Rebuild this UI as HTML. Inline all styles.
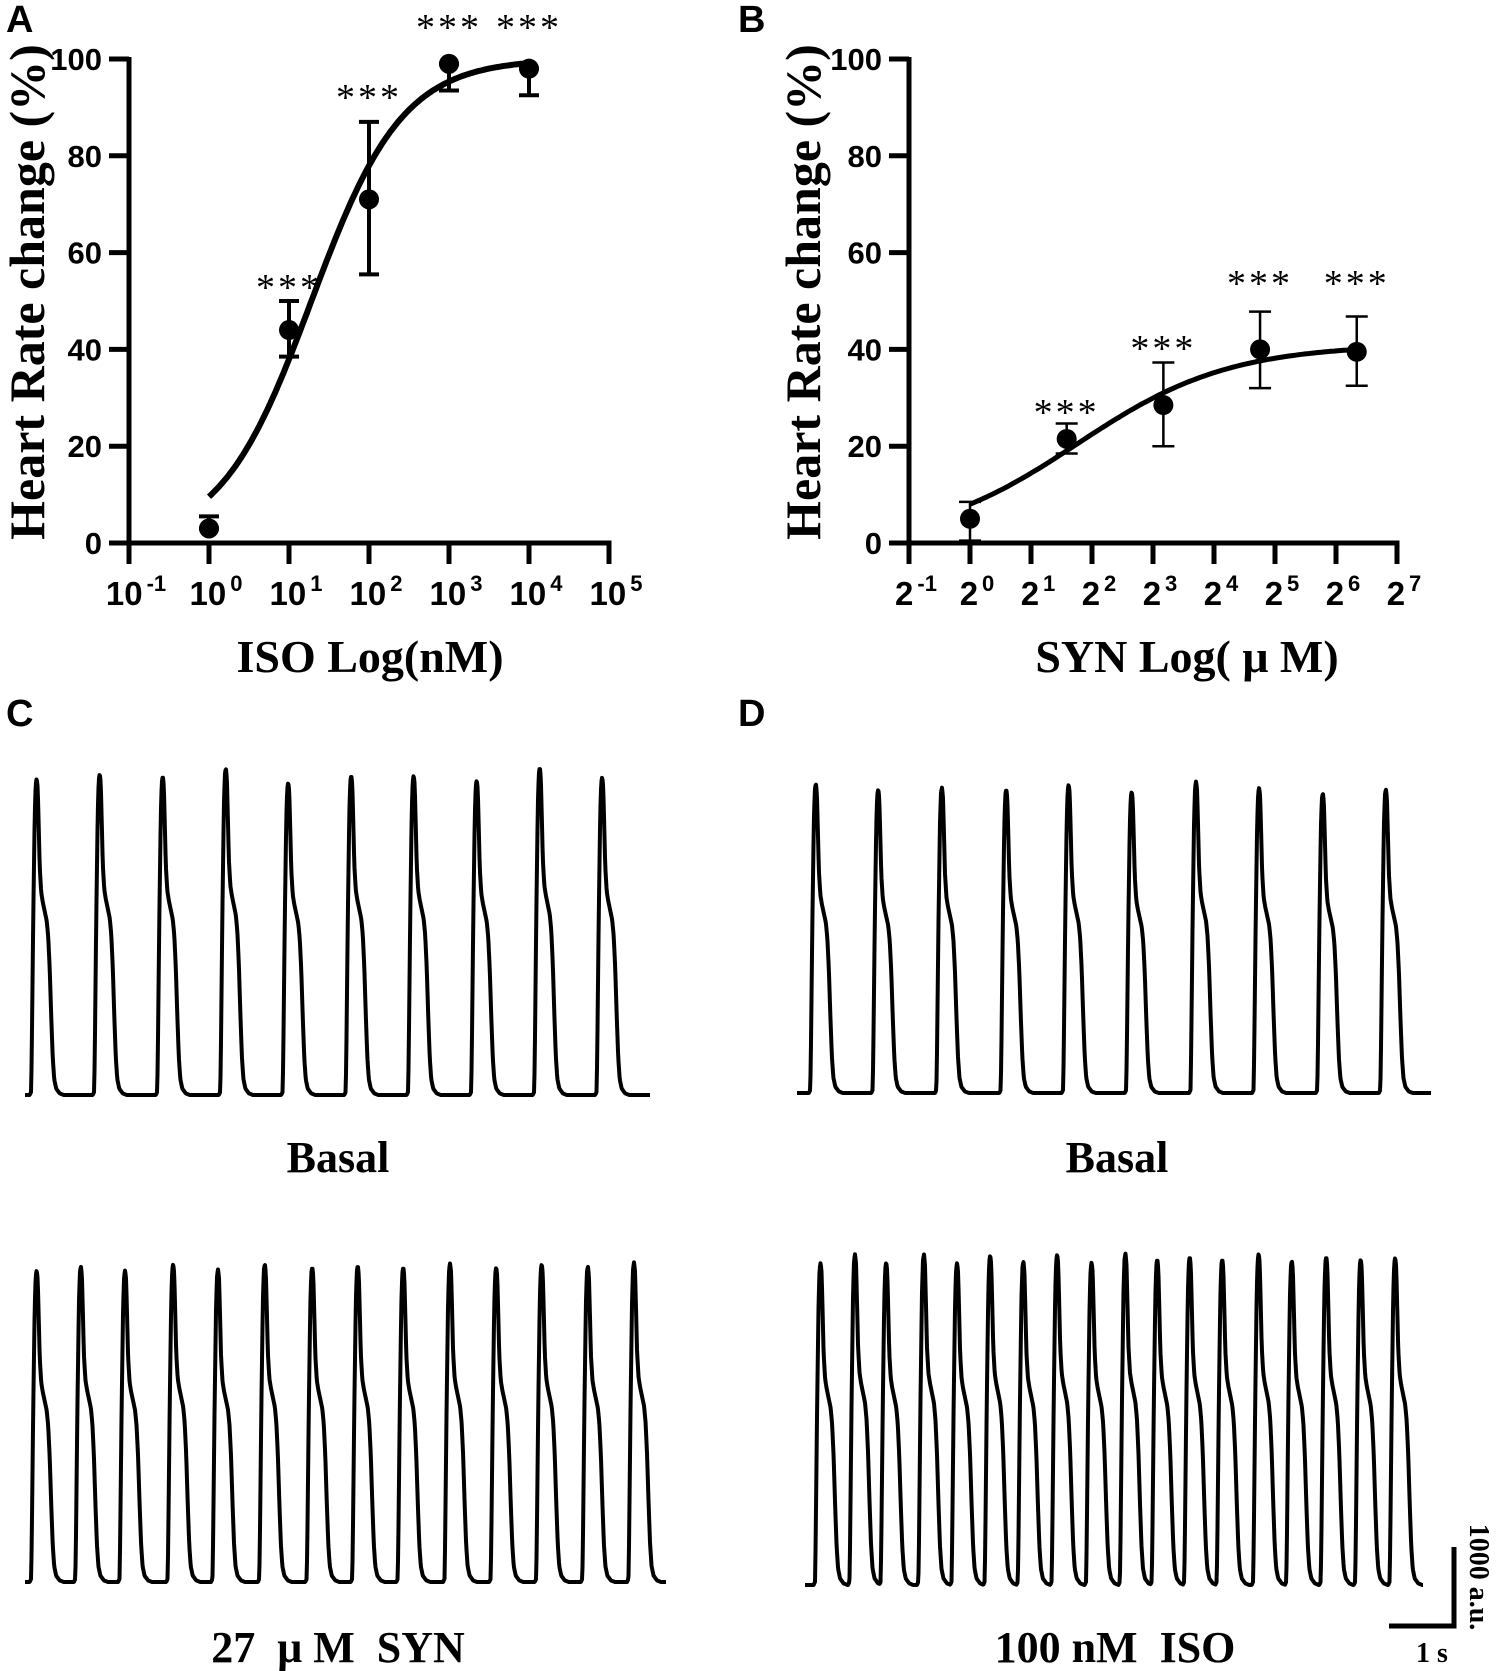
<!DOCTYPE html>
<html><head><meta charset="utf-8"><title>Heart rate dose-response and calcium traces</title>
<style>
html,body{margin:0;padding:0;background:#fff;}
svg{display:block;}
.tick{font-family:"Liberation Sans",sans-serif;font-weight:bold;font-size:31px;fill:#000;}
.xtick{font-family:"Liberation Sans",sans-serif;font-weight:bold;font-size:33px;fill:#000;}
.serif{font-family:"Liberation Serif",serif;font-weight:bold;fill:#000;}
.star{font-family:"Liberation Serif",serif;font-weight:normal;fill:#000;}
.letter{font-family:"Liberation Sans",sans-serif;font-weight:bold;font-size:38px;fill:#000;}
</style></head>
<body>
<svg id="fig" width="1500" height="1671" viewBox="0 0 1500 1671" xmlns="http://www.w3.org/2000/svg">
  <text class="letter" x="6" y="32">A</text>
  <text class="letter" x="738" y="32">B</text>
  <text class="letter" x="6" y="726">C</text>
  <text class="letter" x="738" y="726">D</text>
  <g id="panelA"></g>
  <g id="panelB"></g>
  <g id="traces"></g>
  <text class="serif" x="338" y="1172" font-size="44" text-anchor="middle">Basal</text>
  <text class="serif" x="1117" y="1172" font-size="44" text-anchor="middle">Basal</text>
  <text class="serif" x="338" y="1662" font-size="44" text-anchor="middle" xml:space="preserve">27  μ M  SYN</text>
  <text class="serif" x="1115" y="1662" font-size="44" text-anchor="middle" xml:space="preserve">100 nM  ISO</text>
  <g>
    <path d="M1454 1547 V1626 H1389" fill="none" stroke="#000" stroke-width="5"/>
    <text class="serif" x="1432" y="1662" font-size="28" text-anchor="middle">1 s</text>
    <text class="serif" font-size="28" text-anchor="middle" transform="translate(1470,1577) rotate(90)">1000 a.u.</text>
  </g>
</svg>
<script>
// ---------- Panel A data (ISO) ----------
const isoLogConc = [0, 1, 2, 3, 4];
const isoMean = [3, 44, 71, 99, 98];
const isoErrUp = [5.5, 50, 87, 99, 98];
const isoErrLow = [3, 38.5, 55.5, 93.5, 92.5];
const isoTickExp = [-1, 0, 1, 2, 3, 4, 5];
const isoFitTop = 100, isoFitBottom = 0, isoFitLogEC50 = 1.28, isoFitHill = 0.762;
// ---------- Panel B data (SYN) ----------
const synLog2Conc = [0, 1.585, 3.17, 4.755, 6.34];
const synMean = [5, 21.5, 28.5, 40, 39.5];
const synErrUp = [8.5, 24.7, 37.3, 47.8, 46.8];
const synErrLow = [0.5, 18.5, 20, 32, 32.5];
const synTickExp = [-1, 0, 1, 2, 3, 4, 5, 6, 7];
const synFitTop = 41, synFitBottom = 0, synFitLog2EC50 = 1.76, synFitHill = 1.16;
const yTicks = [0, 20, 40, 60, 80, 100];
// ---------- Traces data: peak times (s) and peak amplitudes (a.u.) ----------
const cBasalPeakTimes = [0.18,1.15,2.12,3.09,4.05,5.02,5.98,6.95,7.92,8.88];
const cBasalPeakAmps = [4010,4070,4040,4140,3960,4050,4050,3990,4150,4030];
const cSynPeakTimes = [0.18,0.86,1.54,2.28,2.97,3.69,4.42,5.12,5.82,6.54,7.25,7.95,8.66,9.37];
const cSynPeakAmps = [3950,4000,3950,4030,3960,4030,3990,4010,3990,4040,3990,4030,4000,4050];
const dBasalPeakTimes = [0.29,1.25,2.23,3.22,4.18,5.15,6.14,7.11,8.09,9.06];
const dBasalPeakAmps = [3920,3850,3870,3850,3910,3820,3950,3870,3800,3850];
const dIsoPeakTimes = [0.24,0.77,1.25,1.83,2.34,2.85,3.36,3.88,4.41,4.93,5.42,5.92,6.42,6.98,7.49,8.02,8.55,9.08];
const dIsoPeakAmps = [4080,4190,4090,4190,4080,4180,4100,4190,4090,4200,4130,4160,4130,4200,4110,4160,4130,4150];

const NS = "http://www.w3.org/2000/svg";
function mk(tag, parent, attrs) {
  const e = document.createElementNS(NS, tag);
  for (const k in attrs) e.setAttribute(k, attrs[k]);
  parent.appendChild(e);
  return e;
}

function drawPanel(g, cfg) {
  const yS = v => cfg.y0 - v * cfg.yPer;
  const xS = v => cfg.x0 + (v - cfg.tickExp[0]) * cfg.xPer;
  const xEnd = xS(cfg.tickExp[cfg.tickExp.length - 1]);
  const ax = mk('path', g, {d:`M${cfg.x0} ${yS(100)-2} V${cfg.y0} H${xEnd+2.5}`, fill:'none', stroke:'#000', 'stroke-width':5});
  
  
  yTicks.forEach(v => {
    const t = mk('line', g, {x1:cfg.x0-20, x2:cfg.x0, y1:yS(v), y2:yS(v), stroke:'#000', 'stroke-width':5});
    
    
    const l = mk('text', g, {x:cfg.x0-27, y:yS(v)+11, 'text-anchor':'end', class:'tick'});
    l.textContent = v;
    
    
  });
  cfg.tickExp.forEach(e => {
    const x = xS(e);
    const t = mk('line', g, {x1:x, x2:x, y1:cfg.y0, y2:cfg.y0+21, stroke:'#000', 'stroke-width':5});
    
    
    const l = mk('text', g, {x:x+7, y:cfg.y0+62, 'text-anchor':'middle', class:'xtick'});
    
    
    const b = mk('tspan', l, {}); b.textContent = cfg.base;
    const s = mk('tspan', l, {'font-size':22, dy:-14, dx:4}); s.textContent = e < 0 ? '-' + (-e) : String(e);
  });
  let d = '';
  for (let i = 0; i <= 120; i++) {
    const xv = cfg.fitFrom + (cfg.fitTo - cfg.fitFrom) * i / 120;
    const yv = cfg.fit(xv);
    d += (i ? 'L' : 'M') + xS(xv).toFixed(1) + ' ' + yS(yv).toFixed(1);
  }
  const c = mk('path', g, {d, fill:'none', stroke:'#000', 'stroke-width':cfg.curveW});
  
  
  cfg.xs.forEach((xv, i) => {
    const x = xS(xv);
    const eb = mk('path', g, {d:`M${x} ${yS(cfg.up[i])} V${yS(cfg.low[i])} M${x-cfg.cap} ${yS(cfg.up[i])} H${x+cfg.cap} M${x-cfg.cap} ${yS(cfg.low[i])} H${x+cfg.cap}`, fill:'none', stroke:'#000', 'stroke-width':cfg.errW});
    
    
    const p = mk('circle', g, {cx:x, cy:yS(cfg.mean[i]), r:10, fill:'#000'});
    
    
    if (cfg.starY[i] !== null) {
      const s = mk('text', g, {x:x, y:cfg.starY[i], 'text-anchor':'middle', class:'star', 'font-size':38, 'letter-spacing':3});
      s.textContent = '***';
      
      
    }
  });
  const yt = mk('text', g, {class:'serif', 'font-size':50, 'text-anchor':'middle', transform:`translate(${cfg.yTitleX},292) rotate(-90)`});
  yt.textContent = 'Heart Rate change (%)';
  
  
  const xt = mk('text', g, {class:'serif', 'font-size':46, 'text-anchor':'middle', x:cfg.xTitleX, y:672, 'xml:space':'preserve'});
  xt.textContent = cfg.xTitle;
  
  
}

drawPanel(document.getElementById('panelA'), {
  x0:129, y0:543, yPer:4.84, xPer:80, tickExp:isoTickExp, base:'10',
  xs:isoLogConc, mean:isoMean, up:isoErrUp, low:isoErrLow,
  fit: x => isoFitBottom + (isoFitTop - isoFitBottom) / (1 + Math.pow(10, (isoFitLogEC50 - x) * isoFitHill)),
  fitFrom:0, fitTo:4, curveW:6, errW:4, cap:10,
  starY:[null, 300, 110, 40, 40],
  yTitleX:44, xTitleX:370, xTitle:'ISO Log(nM)'
});
drawPanel(document.getElementById('panelB'), {
  x0:909, y0:543, yPer:4.84, xPer:61, tickExp:synTickExp, base:'2',
  xs:synLog2Conc, mean:synMean, up:synErrUp, low:synErrLow,
  fit: x => synFitBottom + (synFitTop - synFitBottom) / (1 + Math.pow(2, (synFitLog2EC50 - x) * synFitHill)),
  fitFrom:0, fitTo:6.34, curveW:5, errW:2.5, cap:11,
  starY:[null, 425, 361, 296, 296],
  yTitleX:820, xTitleX:1187, xTitle:'SYN  Log( μ M)'
});

// ---------- traces ----------
const pxPerSec = 65, pxPerAU = 0.079;
const tpl = [[-7,0],[-5.6,0.01],[-5,0.12],[-3.5,0.55],[-2,0.88],[-1,0.98],[0,1],[1,0.97],[2,0.85],[3,0.72],[4.5,0.64],[6,0.61],[8,0.58],[10,0.55],[11.5,0.5],[13,0.4],[14.5,0.25],[16,0.12],[17.5,0.05],[19.5,0.02],[23,0.005],[27,0]];
function beatVal(dx) {
  if (dx <= tpl[0][0] || dx >= tpl[tpl.length-1][0]) return 0;
  for (let i = 1; i < tpl.length; i++) {
    if (dx <= tpl[i][0]) {
      const a = tpl[i-1], b = tpl[i];
      return a[1] + (b[1]-a[1]) * (dx - a[0]) / (b[0]-a[0]);
    }
  }
  return 0;
}
function drawTrace(name, x0, x1, baseY, times, amps) {
  const g = document.getElementById('traces');
  let d = '';
  for (let x = x0; x <= x1; x += 0.5) {
    let v = 0;
    times.forEach((t, i) => {
      const px = x0 + t * pxPerSec;
      const b = beatVal(x - px) * amps[i];
      if (b > v) v = b;
    });
    d += (x === x0 ? 'M' : 'L') + x.toFixed(1) + ' ' + (baseY - v * pxPerAU).toFixed(1);
  }
  const p = mk('path', g, {d, fill:'none', stroke:'#000', 'stroke-width':4, 'stroke-linejoin':'round'});
  
  
}
drawTrace('trace-c-basal', 25, 650, 1095, cBasalPeakTimes, cBasalPeakAmps);
drawTrace('trace-c-syn', 25, 666, 1582, cSynPeakTimes, cSynPeakAmps);
drawTrace('trace-d-basal', 797, 1431, 1093, dBasalPeakTimes, dBasalPeakAmps);
drawTrace('trace-d-iso', 805, 1423, 1585, dIsoPeakTimes, dIsoPeakAmps);
</script>
</body></html>
